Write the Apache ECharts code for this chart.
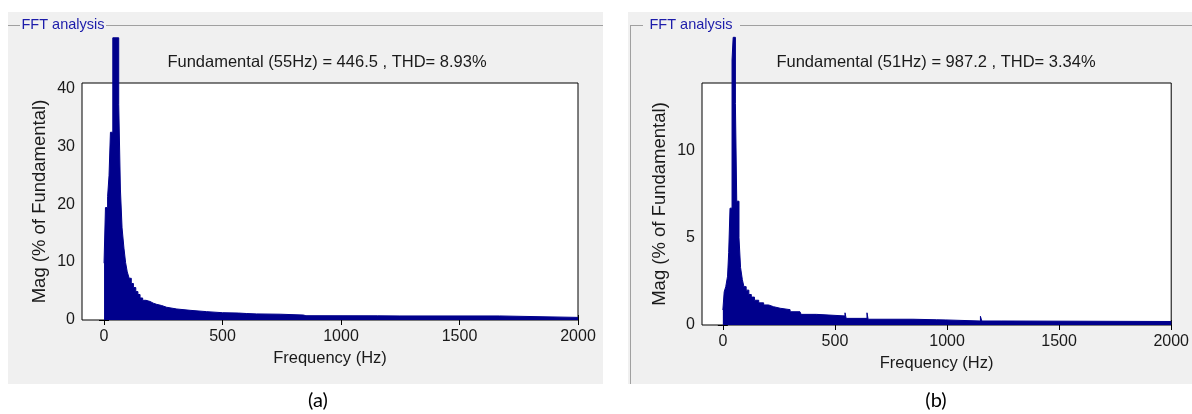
<!DOCTYPE html>
<html>
<head>
<meta charset="utf-8">
<script src="https://cdn.jsdelivr.net/npm/echarts@6/dist/echarts.min.js"></script>
<style>
html,body{margin:0;padding:0;background:#fff;}
#chart{width:1192px;height:414px;}
</style>
</head>
<body>
<div id="chart"></div>
<script>
// ---- Data ----
var freqA = [0, 6, 15, 21, 27, 37, 62, 69, 76, 84, 91, 98, 106, 115, 124, 134, 143, 152, 163, 177, 194, 208, 222, 243, 264, 307, 363, 433, 500, 567, 600, 644, 650, 743, 841, 852, 858, 1155, 1160, 1245, 1250, 1668, 2000];
var magA  = [9.8, 19.4, 21.3, 24.9, 32.4, 48.7, 37.2, 22.6, 15.9, 12.4, 9.9, 8.3, 7.2, 6.3, 5.6, 4.9, 4.4, 3.8, 3.4, 3.2, 2.9, 2.7, 2.5, 2.2, 1.9, 1.67, 1.44, 1.26, 1.2, 1.12, 1.05, 1.3, 1.0, 0.86, 0.74, 1.0, 0.72, 0.95, 0.7, 0.5, 0.7, 0.45, 0.45];

var freqB = [0, 6, 13, 21, 26, 32, 41, 46, 56, 62, 72, 79, 87, 94, 104, 116, 127, 141, 160, 182, 204, 226, 256, 300, 344, 349, 417, 545, 550, 643, 648, 848, 852, 954, 958, 995, 1149, 1155, 1245, 1250, 2000];
var magB  = [0.86, 1.9, 2.2, 2.8, 4.15, 6.7, 15.2, 16.5, 12.7, 7.1, 5.0, 3.3, 2.6, 2.2, 2.0, 1.75, 1.6, 1.42, 1.27, 1.15, 1.05, 0.96, 0.88, 0.76, 0.8, 0.61, 0.52, 0.7, 0.38, 0.7, 0.33, 0.38, 0.3, 0.36, 0.29, 0.23, 0.5, 0.23, 0.3, 0.2, 0.2];

var xTicks  = [0, 500, 1000, 1500, 2000];
var yTicksA = [0, 10, 20, 30, 40];
var yTicksB = [0, 5, 10];

var titleA = 'Fundamental (55Hz) = 446.5 , THD= 8.93%';
var titleB = 'Fundamental (51Hz) = 987.2 , THD= 3.34%';
var panelTitle = 'FFT analysis';
var xName = 'Frequency (Hz)';
var yName = 'Mag (% of Fundamental)';
var captions = ['(a)', '(b)'];

// ---- Style ----
var NAVY = '#00008c';
var FONT = "'Liberation Sans', Arial, sans-serif";
var TXT = '#1a1a1a';

function pairs(f, m) { return f.map(function (v, i) { return [v, m[i]]; }); }
function plain(v) { return String(v); }

function xAxes(gi) {
  return [{
    gridIndex: gi, type: 'value', min: -93, max: 2000, position: 'bottom',
    axisLine: { show: false },
    axisTick: { show: true, inside: true, length: 5, customValues: xTicks, lineStyle: { color: '#000' } },
    axisLabel: { customValues: xTicks, formatter: plain, margin: 9, fontSize: 16, fontFamily: FONT, color: TXT },
    splitLine: { show: false },
    name: xName, nameLocation: 'middle', nameGap: 30,
    nameTextStyle: { fontSize: 16.5, fontFamily: FONT, color: TXT }
  }, {
    gridIndex: gi, type: 'value', min: -93, max: 2000, position: 'top',
    axisLine: { show: false },
    axisTick: { show: true, inside: true, length: 5, customValues: xTicks, lineStyle: { color: '#000' } },
    axisLabel: { show: false },
    splitLine: { show: false }
  }];
}
function yAxes(gi, max, ticks) {
  return [{
    gridIndex: gi, type: 'value', min: 0, max: max, position: 'left',
    axisLine: { show: false },
    axisTick: { show: true, inside: true, length: 5, customValues: ticks, lineStyle: { color: '#000' } },
    axisLabel: { customValues: ticks, formatter: plain, margin: 7, fontSize: 16, fontFamily: FONT, color: TXT },
    splitLine: { show: false },
    name: yName, nameLocation: 'middle', nameGap: 33, nameRotate: 90,
    nameTextStyle: { fontSize: 18.5, fontFamily: FONT, color: TXT }
  }, {
    gridIndex: gi, type: 'value', min: 0, max: max, position: 'right',
    axisLine: { show: false },
    axisTick: { show: true, inside: true, length: 5, customValues: ticks, lineStyle: { color: '#000' } },
    axisLabel: { show: false },
    splitLine: { show: false }
  }];
}

var xa = xAxes(0), xb = xAxes(1);
var ya = yAxes(0, 40.9, yTicksA), yb = yAxes(1, 13.88, yTicksB);

function spec(xi, yi, f, m) {
  return {
    type: 'line', xAxisIndex: xi, yAxisIndex: yi, data: pairs(f, m),
    step: 'end', symbol: 'none', clip: false, silent: true,
    lineStyle: { color: NAVY, width: 1 },
    areaStyle: { color: NAVY, opacity: 1 }, z: 3
  };
}

var chart = echarts.init(document.getElementById('chart'), null, { renderer: 'canvas' });
chart.setOption({
  animation: false,
  backgroundColor: '#ffffff',
  grid: [
    { left: 82, top: 83, width: 496, height: 237, show: true, backgroundColor: '#ffffff', borderColor: '#000', borderWidth: 1, z: 1 },
    { left: 702, top: 83, width: 474, height: 242, show: true, backgroundColor: '#ffffff', borderColor: '#000', borderWidth: 1, z: 1 }
  ],
  xAxis: [xa[0], xa[1], xb[0], xb[1]],
  yAxis: [ya[0], ya[1], yb[0], yb[1]],
  series: [spec(0, 0, freqA, magA), spec(2, 2, freqB, magB)],
  graphic: [
    { type: 'rect', z: -10, shape: { x: 8, y: 12, width: 595, height: 372 }, style: { fill: '#f0f0f0' }, silent: true },
    { type: 'rect', z: -10, shape: { x: 628, y: 12, width: 564, height: 372 }, style: { fill: '#f0f0f0' }, silent: true },
    { type: 'line', z: -5, shape: { x1: 8, y1: 25.5, x2: 20, y2: 25.5 }, style: { stroke: '#a0a0a0', lineWidth: 1 } },
    { type: 'line', z: -5, shape: { x1: 106, y1: 25.5, x2: 603, y2: 25.5 }, style: { stroke: '#a0a0a0', lineWidth: 1 } },
    { type: 'line', z: -5, shape: { x1: 630.5, y1: 25, x2: 630.5, y2: 384 }, style: { stroke: '#a0a0a0', lineWidth: 1 } },
    { type: 'line', z: -5, shape: { x1: 630, y1: 25.5, x2: 643, y2: 25.5 }, style: { stroke: '#a0a0a0', lineWidth: 1 } },
    { type: 'line', z: -5, shape: { x1: 740, y1: 25.5, x2: 1192, y2: 25.5 }, style: { stroke: '#a0a0a0', lineWidth: 1 } },
    { type: 'text', z: 5, x: 63, y: 25, style: { text: panelTitle, fill: '#1c1caa', font: "14.5px " + FONT, textAlign: 'center', textVerticalAlign: 'middle' } },
    { type: 'text', z: 5, x: 691, y: 25, style: { text: panelTitle, fill: '#1c1caa', font: "14.5px " + FONT, textAlign: 'center', textVerticalAlign: 'middle' } },
    { type: 'text', z: 5, x: 327, y: 62, style: { text: titleA, fill: TXT, font: "16.5px " + FONT, textAlign: 'center', textVerticalAlign: 'middle' } },
    { type: 'text', z: 5, x: 936, y: 62, style: { text: titleB, fill: TXT, font: "16.5px " + FONT, textAlign: 'center', textVerticalAlign: 'middle' } },
    { type: 'text', z: 5, x: 318, y: 401, style: { text: captions[0], fill: '#000', font: "20px Lato, 'Open Sans', sans-serif", textAlign: 'center', textVerticalAlign: 'middle' } },
    { type: 'text', z: 5, x: 936, y: 401, style: { text: captions[1], fill: '#000', font: "20px Lato, 'Open Sans', sans-serif", textAlign: 'center', textVerticalAlign: 'middle' } }
  ]
});
</script>
</body>
</html>
